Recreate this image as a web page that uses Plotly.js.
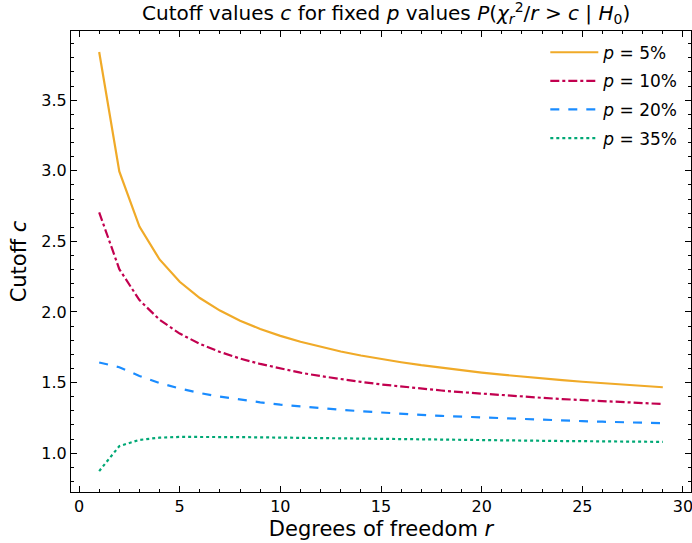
<!DOCTYPE html>
<html><head><meta charset="utf-8">
<script src="https://cdn.plot.ly/plotly-3.0.1.min.js"></script>
<style>body{margin:0;padding:0;background:#fff}#chart{width:692px;height:543px}</style>
</head><body><div id="chart"></div>
<script>
const dof = [1,2,3,4,5,6,7,8,9,10,11,12,13,14,15,16,17,18,19,20,21,22,23,24,25,26,27,28,29];
const p5 = [3.841,2.996,2.605,2.372,2.214,2.099,2.010,1.938,1.880,1.831,1.789,1.752,1.720,1.692,1.666,1.644,1.623,1.604,1.587,1.571,1.556,1.542,1.529,1.517,1.506,1.496,1.486,1.476,1.467];
const p10 = [2.706,2.303,2.084,1.945,1.847,1.774,1.717,1.670,1.632,1.599,1.570,1.546,1.524,1.505,1.487,1.471,1.457,1.444,1.432,1.421,1.410,1.401,1.392,1.383,1.375,1.368,1.361,1.354,1.348];
const p20 = [1.642,1.609,1.547,1.497,1.458,1.426,1.400,1.379,1.360,1.344,1.330,1.318,1.307,1.297,1.287,1.279,1.271,1.264,1.258,1.252,1.246,1.241,1.236,1.231,1.227,1.223,1.219,1.215,1.212];
const p35 = [0.873,1.050,1.094,1.110,1.115,1.116,1.115,1.114,1.112,1.110,1.107,1.105,1.103,1.101,1.099,1.098,1.096,1.094,1.093,1.091,1.090,1.088,1.087,1.086,1.085,1.083,1.082,1.081,1.080];
const names = ['<i>p</i> = 5%','<i>p</i> = 10%','<i>p</i> = 20%','<i>p</i> = 35%'];
const colors = ['#F0AA28','#C2004F','#1A8CFF','#00A875'];
const dashes = ['solid','dashdot','dash','dot'];
const series = [p5,p10,p20,p35];
const traces = series.map((s,i)=>({x:dof,y:s,type:'scatter',mode:'lines',name:names[i],legendgroup:'g'+i,
  line:{color:colors[i],width:2.2,dash:dashes[i]}}));
const ax = {showgrid:false,zeroline:false,showline:true,linecolor:'#000',linewidth:1,mirror:'allticks',
  ticks:'inside',ticklen:6,tickwidth:1,tickcolor:'#000',ticklabeloverflow:'allow',
  tickfont:{family:'DejaVu Sans',size:16,color:'#000'}};
const layout = {
  width:692,height:543,margin:{l:71,r:1,t:31,b:51},
  paper_bgcolor:'#fff',plot_bgcolor:'#fff',
  font:{family:'DejaVu Sans',color:'#000'},
  title:{text:'Cutoff values <i>c</i> for fixed <i>p</i> values <i>P</i>(<i>χ</i><sub><i>r</i></sub><sup>2</sup>/<i>r</i> > <i>c</i> | <i>H</i><sub>0</sub>)',
    font:{family:'DejaVu Sans',size:20,color:'#000'},x:0.558,xanchor:'center',y:0.976,yanchor:'middle'},
  xaxis:Object.assign({},ax,{range:[-0.4,30.4],tickvals:[0,5,10,15,20,25,30],
    minor:{dtick:1,ticks:'inside',ticklen:3,tickwidth:1,tickcolor:'#000'},
    title:{text:'Degrees of freedom <i>r</i>',font:{family:'DejaVu Sans',size:21,color:'#000'},standoff:6}}),
  yaxis:Object.assign({},ax,{range:[0.725,3.99],tickvals:[1.0,1.5,2.0,2.5,3.0,3.5],ticktext:['1.0','1.5','2.0','2.5','3.0','3.5'],
    minor:{dtick:0.1,ticks:'inside',ticklen:3,tickwidth:1,tickcolor:'#000'},
    title:{text:'Cutoff <i>c</i>',font:{family:'DejaVu Sans',size:21,color:'#000'},standoff:8}}),
  legend:{x:0.765,y:0.992,xanchor:'left',yanchor:'top',bgcolor:'rgba(0,0,0,0)',borderwidth:0,
    itemwidth:48,tracegroupgap:3.5,
    font:{family:'DejaVu Sans',size:17,color:'#000'}},
  showlegend:true
};
Plotly.newPlot('chart',traces,layout,{displayModeBar:false,staticPlot:true});
</script></body></html>
